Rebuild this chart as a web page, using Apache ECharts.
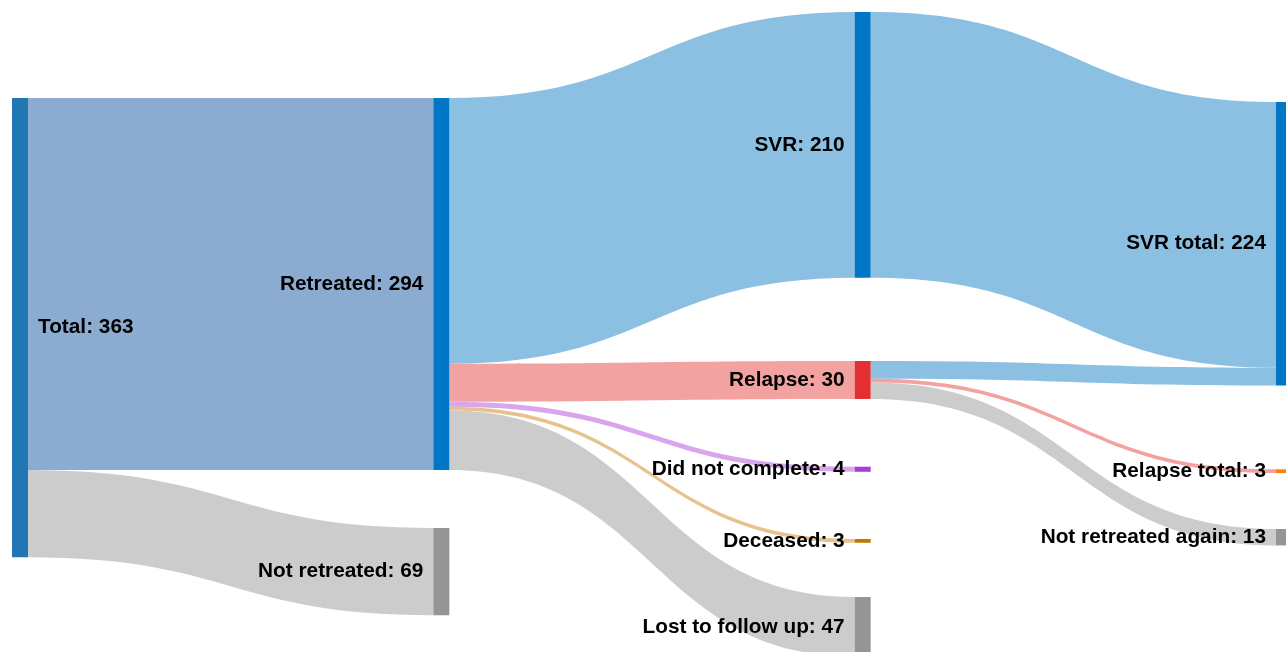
<!DOCTYPE html>
<html>
<head>
<meta charset="utf-8">
<script src="https://cdn.jsdelivr.net/npm/echarts@6/dist/echarts.min.js"></script>
<style>
html,body{margin:0;padding:0;background:#fff;}
#chart{width:1286px;height:652px;}
</style>
</head>
<body>
<div id="chart"></div>
<script>
// ---- data ----
const nodeNames = ["Total", "Retreated", "Not retreated", "SVR", "Relapse", "Did not complete", "Deceased", "Lost to follow up", "SVR total", "Relapse total", "Not retreated again"];
const linkSources = ["Total", "Total", "Retreated", "Retreated", "Retreated", "Retreated", "Retreated", "SVR", "Relapse", "Relapse", "Relapse"];
const linkTargets = ["Retreated", "Not retreated", "SVR", "Relapse", "Did not complete", "Deceased", "Lost to follow up", "SVR total", "SVR total", "Relapse total", "Not retreated again"];
const linkValues = [294, 69, 210, 30, 4, 3, 47, 210, 14, 3, 13];

// ---- styling / layout (kept apart from data) ----
const nodeColors = ["#1f77b4", "#0175c6", "#959595", "#0175c6", "#e32f2f", "#a83cd8", "#c47800", "#959595", "#0175c6", "#ff7f0e", "#959595"];
const linkColors = ["#8bacd0", "#cccccc", "#8cc0e2", "#f3a2a2", "#d9a6ee", "#e6c38e", "#cccccc", "#8cc0e2", "#8cc0e2", "#f3a2a2", "#cccccc"];
// vertical placement of each node as a fraction of the layout height (arrangement of the reference)
const nodeTopFractions = [0.1344, 0.1344, 0.8063, 0, 0.5453, 0.7105, 0.8234, 0.9141, 0.1406, 0.7145, 0.8078];

const outTotals = {}, inTotals = {};
linkSources.forEach((s, i) => { outTotals[s] = (outTotals[s] || 0) + linkValues[i]; });
linkTargets.forEach((t, i) => { inTotals[t] = (inTotals[t] || 0) + linkValues[i]; });
function nodeValue(n) { return Math.max(outTotals[n] || 0, inTotals[n] || 0); }

const nodes = nodeNames.map((n, i) => ({
  name: n,
  localY: nodeTopFractions[i],
  itemStyle: { color: nodeColors[i] },
  label: i === 0 ? { position: 'right' } : {}
}));
const links = linkSources.map((s, i) => ({
  source: s, target: linkTargets[i], value: linkValues[i],
  lineStyle: { color: linkColors[i], opacity: 1 }
}));

const chart = echarts.init(document.getElementById('chart'), null, { renderer: 'canvas' });
chart.setOption({
  animation: false,
  series: [{
    type: 'sankey',
    left: 12, top: 12, width: 1280, height: 640,
    nodeWidth: 16,
    nodeGap: 67,
    nodeAlign: 'left',
    layoutIterations: 0,
    draggable: false,
    emphasis: { disabled: true },
    data: nodes,
    links: links,
    itemStyle: { borderWidth: 0 },
    lineStyle: { curveness: 0.5, opacity: 1 },
    label: {
      show: true,
      position: 'left',
      distance: 10,
      color: '#000',
      fontFamily: 'Liberation Sans, Arial, sans-serif',
      fontWeight: 'bold',
      fontSize: 20.8,
      formatter: p => p.name + ': ' + nodeValue(p.name)
    }
  }]
});
</script>
</body>
</html>
